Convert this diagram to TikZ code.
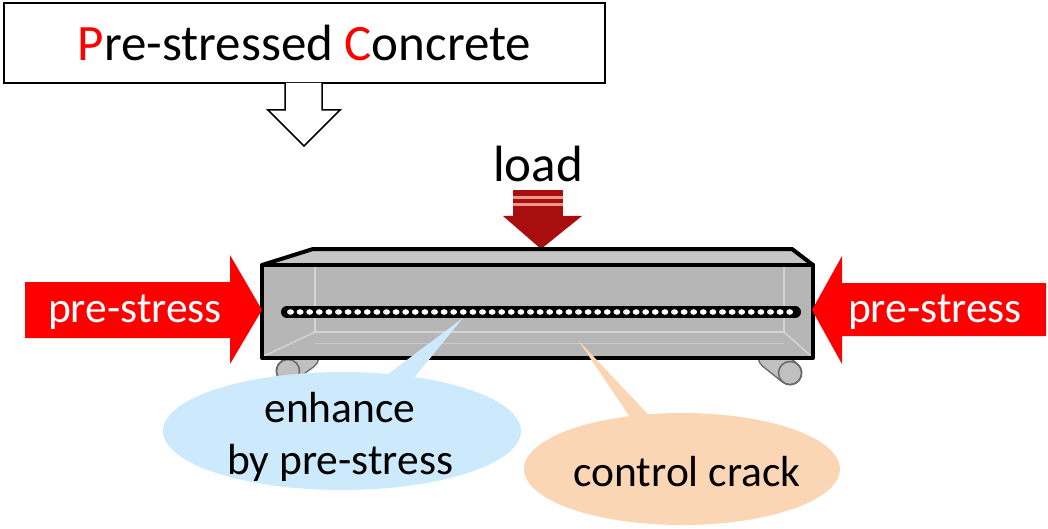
\documentclass[tikz,border=0pt]{standalone}
\usepackage{fontspec}
\setmainfont{Carlito}
\usetikzlibrary{shapes.callouts}

\definecolor{psred}{RGB}{255,0,0}
\definecolor{loadred}{RGB}{168,14,14}
\definecolor{loadstripe}{RGB}{236,150,140}
\definecolor{beamfront}{RGB}{182,182,182}
\definecolor{beamtop}{RGB}{198,198,198}
\definecolor{beamline}{RGB}{212,212,212}
\definecolor{rollerfill}{RGB}{192,192,192}
\definecolor{rollerline}{RGB}{105,105,105}
\definecolor{calloutblue}{RGB}{204,234,251}
\definecolor{calloutpeach}{RGB}{250,214,181}

\tikzset{
  bigtxt/.style={font=\fontsize{51}{60}\selectfont, inner sep=0pt},
  lbltxt/.style={font=\fontsize{43.5}{52}\selectfont, inner sep=0pt, align=center},
  pressarrow/.style={fill=psred, draw=none},
  beamedge/.style={line width=4pt, line join=round, line cap=round},
  innerline/.style={beamline, line width=1.5pt},
  bubble/.style={ellipse callout, draw=none, inner sep=0pt},
}

\begin{document}
\begin{tikzpicture}[x=1pt,y=-1pt]
\useasboundingbox (0,0) rectangle (1048,529);

% title box and hollow arrow below it
\node[draw, line width=1.5pt, minimum width=601pt, minimum height=80pt, bigtxt]
  (title) at (304.5,43) {\textcolor{psred}{P}re-stressed \textcolor{psred}{C}oncrete};
\draw[line width=1.5pt, fill=white, line join=miter]
  (285,83) -- (285,110) -- (268,110) -- (304,146) -- (340,110) -- (322,110) -- (322,83);

% load label and arrow
\node[bigtxt] (load) at (538,164) {load};
\fill[loadred] (513,190) rectangle (563,217);
\fill[loadred] (503,216) -- (582,216) -- (541,249) -- cycle;
\draw[loadstripe, line width=2.5pt] (513,197.5) -- (563,197.5);
\draw[loadstripe, line width=2.5pt] (513,204.5) -- (563,204.5);

% rollers under the beam
\draw[rollerline, line width=25pt, line cap=round] (770,357) -- (790,373);
\draw[rollerfill, line width=22pt, line cap=round] (770,357) -- (790,373);
\draw[rollerline, line width=1.5pt, fill=rollerfill] (790,373) circle[radius=11.5pt];
\draw[rollerline, line width=25pt, line cap=round] (307,357) -- (288,371);
\draw[rollerfill, line width=22pt, line cap=round] (307,357) -- (288,371);
\draw[rollerline, line width=1.5pt, fill=rollerfill] (288,371) circle[radius=11.5pt];

% beam body
\fill[beamtop] (262,265) -- (313,249) -- (792,249) -- (813,265) -- cycle;
\fill[beamfront] (262,265) rectangle (813,358);
\draw[innerline] (315,265) -- (315,332) -- (784,332) -- (784,265);
\draw[innerline] (315,332) -- (264,356);
\draw[innerline] (784,332) -- (811,356);
\draw[beamline!70!beamfront, line width=1pt] (315,343) -- (784,343);

% tendon with its strands
\draw[line width=12pt, line cap=round] (287,312) -- (795,312);
\foreach \i in {0,...,52}
  \fill[white] ({290.5+\i*9.6},312) ellipse[x radius=3.4pt, y radius=2.8pt];

% beam outline
\draw[beamedge] (262,265) -- (313,249) -- (792,249) -- (813,265);
\draw[beamedge] (262,265) rectangle (813,358);

% pre-stress arrows
\fill[pressarrow] (25,282) -- (230,282) -- (230,255) -- (262,310) -- (230,364) -- (230,338) -- (25,338) -- cycle;
\node[lbltxt, text=white] (psl) at (135,312) {pre-stress};
\fill[pressarrow] (1046,283) -- (842,283) -- (842,256) -- (812,310) -- (842,364) -- (842,336) -- (1046,336) -- cycle;
\node[lbltxt, text=white] (psr) at (935,312) {pre-stress};

% callouts
\coordinate (tendonpt) at (463,318);
\coordinate (crackpt) at (578,340);
\node[bubble, fill=calloutblue, minimum width=358pt, minimum height=118pt,
  callout pointer arc=9, callout absolute pointer={(tendonpt)}] (enhbub) at (342,431) {};
\node[lbltxt] (enhtxt) at (340,437) {enhance\\by pre-stress};
\node[bubble, fill=calloutpeach, minimum width=316pt, minimum height=112pt,
  callout pointer arc=7, callout absolute pointer={(crackpt)}] (crackbub) at (682,469) {};
\node[lbltxt] (cracktxt) at (687,472) {control crack};

\end{tikzpicture}
\end{document}
